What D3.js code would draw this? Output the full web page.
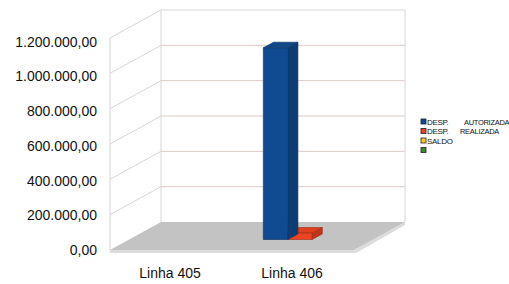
<!DOCTYPE html>
<html>
<head>
<meta charset="utf-8">
<script src="https://cdn.jsdelivr.net/npm/d3@7"></script>
<style>
  html, body { margin: 0; padding: 0; background: #fff; }
  svg { display: block; font-family: "Liberation Sans", Arial, sans-serif; }
</style>
</head>
<body>
<div id="chart"></div>
<script>
// == DATA ==
const categories = ['Linha 405', 'Linha 406'];
const series = ['DESP. AUTORIZADA', 'DESP. REALIZADA', 'SALDO', ''];
const seriesColors = ['#104b91', '#ee4220', '#f5cf1c', '#3b8a2e'];
const values = [
  [0, 0, 0, 0],              // Linha 405
  [1085000, 36000, 0, 0]     // Linha 406
];
const yTicks = [0, 200000, 400000, 600000, 800000, 1000000, 1200000];

// == CONFIG ==
const W = 509, H = 284;
const DX = 51, DY = 28;         // depth vector of the 3d box
const BAR_F0 = 0.375, BAR_F1 = 0.575; // bar depth (fraction of box depth)
const LEGEND_WORD2_X = [43, 39, 0, 0]; // x of the second legend word (legend-local)

const svg = d3.select('#chart').append('svg')
  .attr('width', W).attr('height', H);

const x0 = d3.scaleBand().domain(categories).range([110, 354]);
const x1 = d3.scaleBand().domain(d3.range(series.length))
  .range([0, x0.bandwidth()]).paddingOuter(0.5);
const y = d3.scaleLinear().domain([0, 1200000]).range([250, 38]);
const yLabel = d3.scaleLinear().domain([0, 1200000]).range([250, 41.5]);

// projection: front-plane x, value, depth fraction
const P = (x, v, f) => [x + f * DX, y(v) - f * DY];
const pts = arr => arr.map(p => p.join(',')).join(' ');

const xL = x0.range()[0], xR = x0.range()[1];
const vMax = y.domain()[1];

// == WALLS ==
const gWall = svg.append('g');
gWall.append('polygon')
  .attr('points', pts([P(xL, 0, 1), P(xR, 0, 1), P(xR, vMax, 1), P(xL, vMax, 1)]))
  .attr('fill', '#fff');

// floor thickness strip
gWall.append('polygon')
  .attr('points', pts([P(xL, 0, 0), P(xR, 0, 0), P(xR, 0, 1),
    [P(xR, 0, 1)[0], P(xR, 0, 1)[1] + 3], [P(xR, 0, 0)[0] + 2, P(xR, 0, 0)[1] + 3], [xL, P(xL, 0, 0)[1] + 3]]))
  .attr('fill', '#dcdcdc');

gWall.append('polygon')
  .attr('points', pts([P(xL, 0, 0), P(xR, 0, 0), P(xR, 0, 1), P(xL, 0, 1)]))
  .attr('fill', '#c3c3c3');

// back wall grid lines
gWall.selectAll('line.grid').data(yTicks.filter(d => d > 0)).enter().append('line')
  .attr('class', 'grid')
  .attr('x1', d => P(xL, d, 1)[0]).attr('y1', d => P(xL, d, 1)[1])
  .attr('x2', d => P(xR, d, 1)[0]).attr('y2', d => P(xR, d, 1)[1])
  .attr('stroke', d => d === vMax ? '#d6d6d6' : '#dccac4').attr('stroke-width', 1);

// left wall lines
gWall.selectAll('line.side').data(yTicks.filter(d => d > 0)).enter().append('line')
  .attr('class', 'side')
  .attr('x1', d => P(xL, d, 0)[0]).attr('y1', d => P(xL, d, 0)[1])
  .attr('x2', d => P(xL, d, 1)[0]).attr('y2', d => P(xL, d, 1)[1])
  .attr('stroke', '#d6d6d6');

// wall edges
[[P(xL, 0, 0), P(xL, vMax, 0)], [P(xL, 0, 1), P(xL, vMax, 1)], [P(xR, 0, 1), P(xR, vMax, 1)]]
  .forEach(([a, b]) => gWall.append('line')
    .attr('x1', a[0]).attr('y1', a[1]).attr('x2', b[0]).attr('y2', b[1])
    .attr('stroke', '#d6d6d6'));

// == BARS ==
const shade = (c, k) => d3.color(c).darker(k).formatHex();
const gBars = svg.append('g');
categories.forEach((cat, ci) => {
  // draw right-to-left so left bars overlap properly
  d3.range(series.length).reverse().forEach(si => {
    const v = values[ci][si];
    if (!v) return;
    const xa = x0(cat) + x1(si), xb = xa + x1.bandwidth();
    const c = seriesColors[si];
    const stroke = shade(c, 1.2);
    // side
    gBars.append('polygon')
      .attr('points', pts([P(xb, 0, BAR_F0), P(xb, 0, BAR_F1), P(xb, v, BAR_F1), P(xb, v, BAR_F0)]))
      .attr('fill', shade(c, 0.6)).attr('stroke', stroke).attr('stroke-width', 0.6);
    // top
    gBars.append('polygon')
      .attr('points', pts([P(xa, v, BAR_F0), P(xb, v, BAR_F0), P(xb, v, BAR_F1), P(xa, v, BAR_F1)]))
      .attr('fill', shade(c, 0.15)).attr('stroke', stroke).attr('stroke-width', 0.6);
    // front
    gBars.append('polygon')
      .attr('points', pts([P(xa, 0, BAR_F0), P(xb, 0, BAR_F0), P(xb, v, BAR_F0), P(xa, v, BAR_F0)]))
      .attr('fill', c).attr('stroke', stroke).attr('stroke-width', 0.6);
  });
});

// == AXIS LABELS ==
const fmt = d3.formatLocale({ decimal: ',', thousands: '.', grouping: [3], currency: ['', ''] }).format(',.2f');
svg.append('g').selectAll('text').data(yTicks).enter().append('text')
  .attr('x', 97).attr('y', d => yLabel(d)).attr('dy', '0.36em')
  .attr('text-anchor', 'end').attr('font-size', '14px').attr('fill', '#111')
  .text(d => fmt(d));

svg.append('g').selectAll('text').data(categories).enter().append('text')
  .attr('x', d => x0(d) + x0.bandwidth() / 2 - 1).attr('y', 278)
  .attr('text-anchor', 'middle').attr('font-size', '14px').attr('fill', '#111')
  .text(d => d);

// == LEGEND ==
const legend = svg.append('g').attr('transform', 'translate(421,119)');
const li = legend.selectAll('g').data(series).enter().append('g')
  .attr('transform', (d, i) => `translate(0,${i * 9.5})`);
li.append('rect').attr('width', 5).attr('height', 5)
  .attr('fill', (d, i) => seriesColors[i]).attr('stroke', '#222').attr('stroke-width', 0.8);
li.each(function (d, i) {
  const words = d.split(' ');
  const g = d3.select(this);
  g.append('text').attr('x', 6).attr('y', 5.5)
    .attr('font-size', '8px').attr('fill', '#111').attr('letter-spacing', '-0.3')
    .text(words[0]);
  if (words[1]) {
    g.append('text').attr('x', LEGEND_WORD2_X[i]).attr('y', 5.5)
      .attr('font-size', '7.5px').attr('fill', '#111').attr('letter-spacing', '-0.3')
      .text(words[1]);
  }
});
</script>
</body>
</html>
